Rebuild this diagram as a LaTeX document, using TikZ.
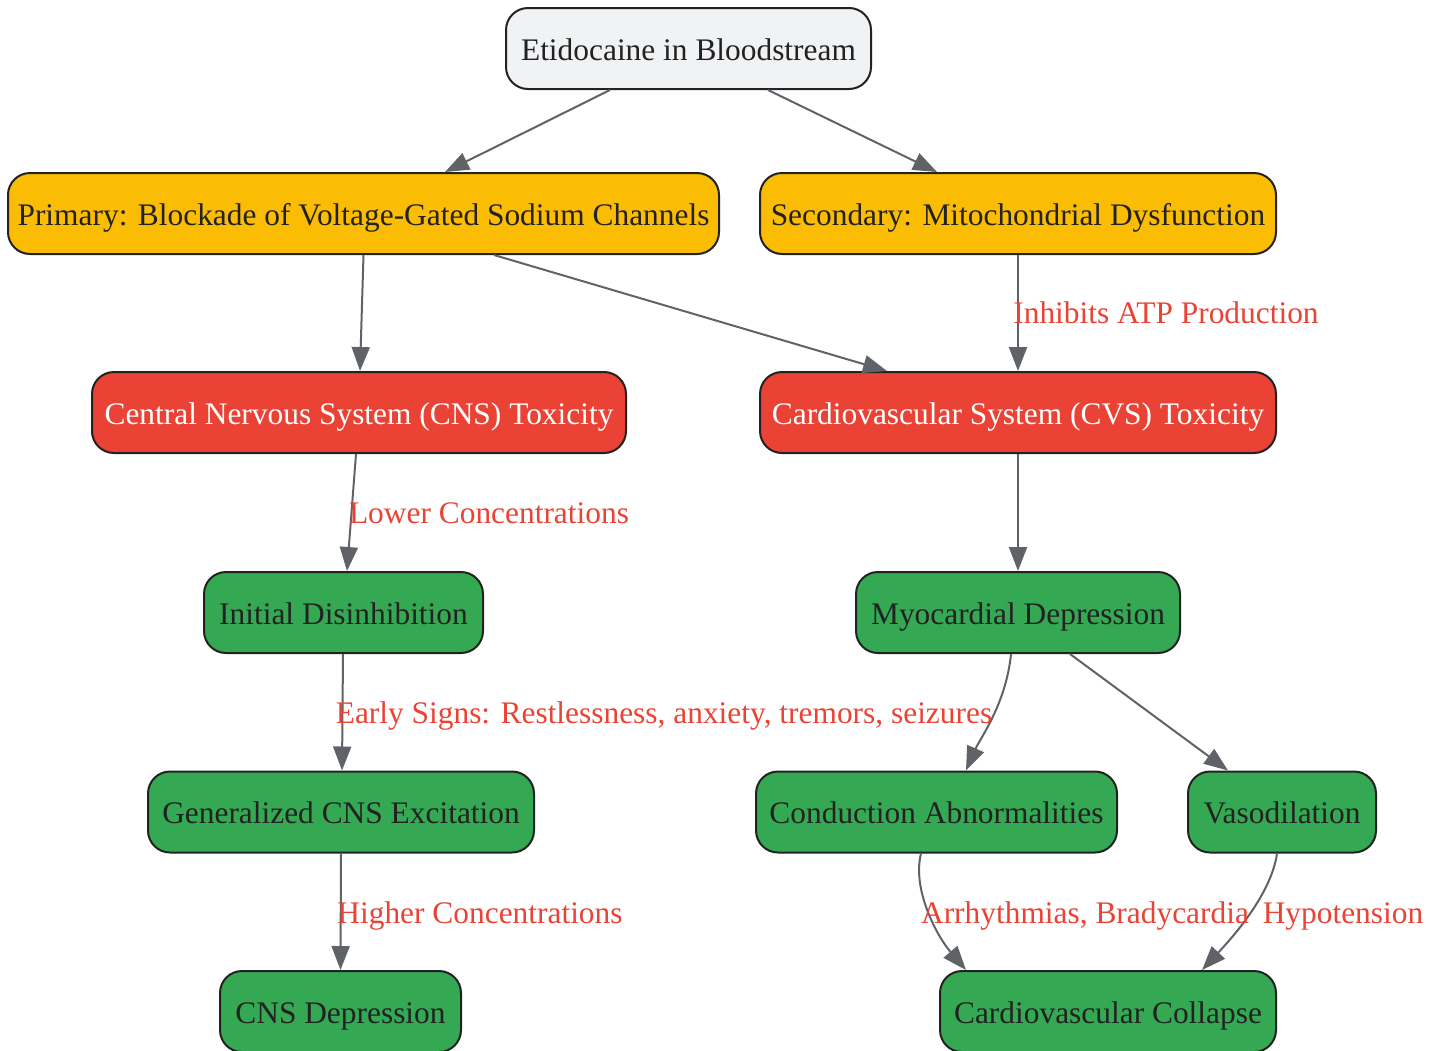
\documentclass[tikz,border=0pt]{standalone}
\usepackage{fontspec}
\setmainfont{Liberation Serif}
\usetikzlibrary{arrows.meta}
\definecolor{bordc}{HTML}{222222}
\definecolor{txtc}{HTML}{222222}
\definecolor{greyf}{HTML}{F1F2F4}
\definecolor{yelf}{HTML}{FBBC04}
\definecolor{redf}{HTML}{EA4335}
\definecolor{grnf}{HTML}{34A853}
\definecolor{edgec}{HTML}{5F6368}
\definecolor{lblc}{HTML}{EA4335}
\tikzset{
  box/.style={draw=bordc, line width=2pt, rounded corners=22pt, minimum height=81pt,
    inner sep=0pt, text height=23pt, text depth=0pt, text=txtc, font=\fontsize{31.4}{36}\selectfont},
  startbox/.style={box, fill=greyf},
  mechbox/.style={box, fill=yelf},
  toxbox/.style={box, fill=redf, text=white},
  effbox/.style={box, fill=grnf},
  edge/.style={draw=edgec, line width=2pt, -{Triangle[length=24pt,width=18pt]}},
  lbl/.style={text=lblc, inner sep=0pt, text height=23pt, text depth=0pt, font=\fontsize{31.4}{36}\selectfont}
}
\begin{document}
\begin{tikzpicture}[x=1pt,y=-1pt]
\useasboundingbox (0,0) rectangle (1442,1050);
\node[startbox, minimum width=365pt] (eti) at (688.5,48.5) {Etidocaine in Bloodstream};
\node[mechbox, minimum width=711pt] (prim) at (363.5,213.5) {Primary: Blockade of Voltage-Gated Sodium Channels};
\node[mechbox, minimum width=516pt] (sec) at (1018,213.5) {Secondary: Mitochondrial Dysfunction};
\node[toxbox, minimum width=534pt] (cns) at (359,412.5) {Central Nervous System (CNS) Toxicity};
\node[toxbox, minimum width=516pt] (cvs) at (1018,412.5) {Cardiovascular System (CVS) Toxicity};
\node[effbox, minimum width=279pt] (init) at (343.5,612.5) {Initial Disinhibition};
\node[effbox, minimum width=324pt] (myo) at (1018,612.5) {Myocardial Depression};
\node[effbox, minimum width=386pt] (gen) at (341,812) {Generalized CNS Excitation};
\node[effbox, minimum width=361pt] (cond) at (936.5,812) {Conduction Abnormalities};
\node[effbox, minimum width=188pt] (vaso) at (1282,812) {Vasodilation};
\node[effbox, minimum width=241pt] (cnsd) at (340.5,1011.5) {CNS Depression};
\node[effbox, minimum width=336pt] (coll) at (1108,1011.5) {Cardiovascular Collapse};

\draw[edge] ([xshift=-78.5pt]eti.south) -- ([xshift=81.5pt]prim.north);
\draw[edge] ([xshift=79.5pt]eti.south) -- ([xshift=-81pt]sec.north);
\draw[edge] ([xshift=0pt]prim.south) -- ([xshift=1pt]cns.north);
\draw[edge] ([xshift=130.5pt]prim.south) -- ([xshift=-131pt]cvs.north);
\draw[edge] (sec.south) -- (cvs.north);
\draw[edge] ([xshift=-3pt]cns.south) -- ([xshift=3.5pt]init.north);
\draw[edge] (cvs.south) -- (myo.north);
\draw[edge] ([xshift=-0.5pt]init.south) -- ([xshift=1pt]gen.north);
\draw[edge] ([xshift=-7pt]myo.south) .. controls +(-5,50) and +(14,-32) .. ([xshift=29.5pt]cond.north);
\draw[edge] ([xshift=52pt]myo.south) -- ([xshift=-54pt]vaso.north);
\draw[edge] (gen.south) -- (cnsd.north);
\draw[edge] ([xshift=-15.5pt]cond.south) .. controls +(-9,35) and +(-30,-35) .. ([xshift=-142pt]coll.north);
\draw[edge] ([xshift=-5pt]vaso.south) .. controls +(-6,42) and +(28,-30) .. ([xshift=94pt]coll.north);

\node[lbl] (l1) at (1166,312) {Inhibits ATP Production};
\node[lbl] (l2) at (489,512) {Lower Concentrations};
\node[lbl] (l3) at (664,712) {Early Signs: Restlessness, anxiety, tremors, seizures};
\node[lbl] (l4) at (480,911.5) {Higher Concentrations};
\node[lbl] (l5) at (1085,911.5) {Arrhythmias, Bradycardia};
\node[lbl] (l6) at (1343,911.5) {Hypotension};
\end{tikzpicture}
\end{document}
